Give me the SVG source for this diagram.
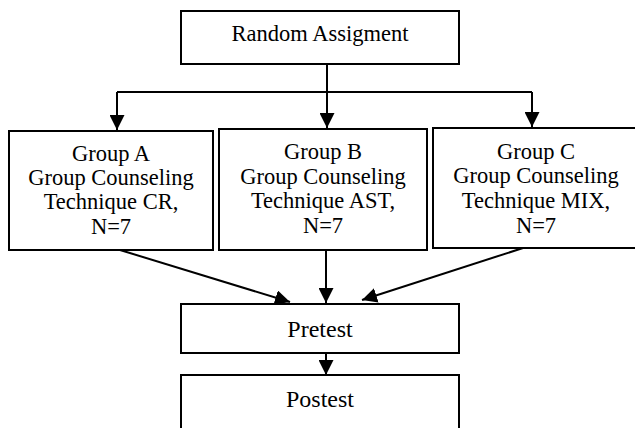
<svg xmlns="http://www.w3.org/2000/svg" width="635" height="428" viewBox="0 0 635 428">
<style>
.box{fill:#fff;stroke:#000;stroke-width:2}
.t{font-family:"Liberation Serif","Times New Roman",serif;font-size:22.5px;fill:#000;text-anchor:middle}
.tb{font-size:24px}
.c{stroke:#000;stroke-width:2;fill:none}
</style>
<defs>
<marker id="ah" markerUnits="userSpaceOnUse" markerWidth="15" markerHeight="15" viewBox="0 0 14 14" refX="14" refY="7" orient="auto">
<path d="M0,0 L14,7 L0,14 z" fill="#000"/>
</marker>
</defs>
<rect width="635" height="428" fill="#fff"/>
<g id="connectors">
<path class="c" d="M327,64 V92"/>
<path class="c" d="M117,92 H532"/>
<path class="c" d="M117,92 V130" marker-end="url(#ah)"/>
<path class="c" d="M327,92 V128" marker-end="url(#ah)"/>
<path class="c" d="M532,92 V127" marker-end="url(#ah)"/>
<path class="c" d="M120,250 L290,302" marker-end="url(#ah)"/>
<path class="c" d="M326,250 V303" marker-end="url(#ah)"/>
<path class="c" d="M523,248 L362,300" marker-end="url(#ah)"/>
<path class="c" d="M326,353 V375" marker-end="url(#ah)"/>
</g>
<g id="random">
<rect class="box" x="181" y="11" width="278" height="53"/>
<text class="t" x="320" y="41">Random Assigment</text>
</g>
<g id="groupA">
<rect class="box" x="9" y="131" width="204" height="119"/>
<text class="t" x="111" y="161">Group A</text>
<text class="t" x="111" y="185">Group Counseling</text>
<text class="t" x="111" y="209">Technique CR,</text>
<text class="t" x="111" y="234">N=7</text>
</g>
<g id="groupB">
<rect class="box" x="219" y="129" width="208" height="121"/>
<text class="t" x="323" y="159">Group B</text>
<text class="t" x="323" y="184">Group Counseling</text>
<text class="t" x="323" y="208">Technique AST,</text>
<text class="t" x="323" y="233">N=7</text>
</g>
<g id="groupC">
<rect class="box" x="433" y="128" width="215" height="120"/>
<text class="t" x="536" y="159">Group C</text>
<text class="t" x="536" y="183">Group Counseling</text>
<text class="t" x="536" y="208">Technique MIX,</text>
<text class="t" x="536" y="233">N=7</text>
</g>
<g id="pretest">
<rect class="box" x="181" y="304" width="278" height="49"/>
<text class="t tb" x="320" y="337">Pretest</text>
</g>
<g id="postest">
<rect class="box" x="181" y="375" width="278" height="70"/>
<text class="t tb" x="320" y="407">Postest</text>
</g>
</svg>
